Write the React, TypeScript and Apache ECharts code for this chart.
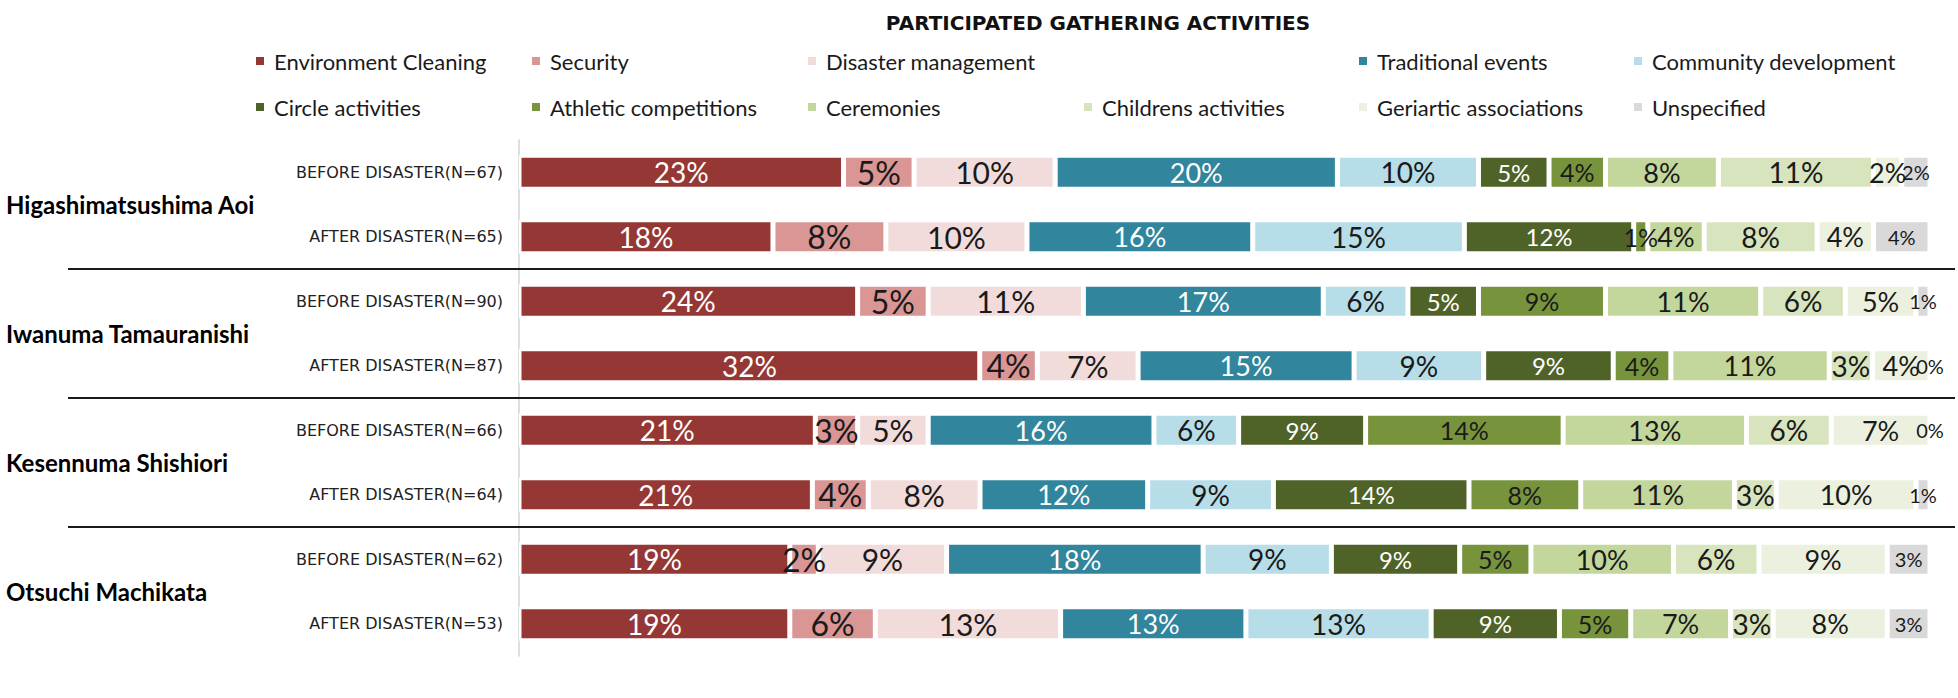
import React, { useEffect, useRef } from 'react';
import * as echarts from 'echarts';

// ---------- data ----------
const rowLabels = [
  'BEFORE DISASTER(N=67)',
  'AFTER DISASTER(N=65)',
  'BEFORE DISASTER(N=90)',
  'AFTER DISASTER(N=87)',
  'BEFORE DISASTER(N=66)',
  'AFTER DISASTER(N=64)',
  'BEFORE DISASTER(N=62)',
  'AFTER DISASTER(N=53)',
];
const groupNames = [
  'Higashimatsushima Aoi',
  'Iwanuma Tamauranishi',
  'Kesennuma Shishiori',
  'Otsuchi Machikata',
];
const chartTitle = 'PARTICIPATED GATHERING ACTIVITIES';
const activityNames = [
  'Environment Cleaning',
  'Security',
  'Disaster management',
  'Traditional events',
  'Community development',
  'Circle activities',
  'Athletic competitions',
  'Ceremonies',
  'Childrens activities',
  'Geriartic associations',
  'Unspecified',
];
// percentages per row (top to bottom)
const environmentCleaning = [23, 18, 24, 32, 21, 21, 19, 19];
const security = [5, 8, 5, 4, 3, 4, 2, 6];
const disasterManagement = [10, 10, 11, 7, 5, 8, 9, 13];
const traditionalEvents = [20, 16, 17, 15, 16, 12, 18, 13];
const communityDevelopment = [10, 15, 6, 9, 6, 9, 9, 13];
const circleActivities = [5, 12, 5, 9, 9, 14, 9, 9];
const athleticCompetitions = [4, 1, 9, 4, 14, 8, 5, 5];
const ceremonies = [8, 4, 11, 11, 13, 11, 10, 7];
const childrensActivities = [11, 8, 6, 3, 6, 3, 6, 3];
const geriarticAssociations = [2, 4, 5, 4, 7, 10, 9, 8];
const unspecified = [2, 4, 1, 0, 0, 1, 3, 3];

const seriesValues = [
  environmentCleaning,
  security,
  disasterManagement,
  traditionalEvents,
  communityDevelopment,
  circleActivities,
  athleticCompetitions,
  ceremonies,
  childrensActivities,
  geriarticAssociations,
  unspecified,
];

// ---------- styles ----------
const colors = [
  '#953735', '#D99694', '#F2DCDB', '#31859C', '#B7DEE8',
  '#4F6228', '#77933C', '#C3D69B', '#D7E4BD', '#EBF1DE', '#D9D9D9',
];
const labelColors = [
  '#ffffff', '#1a1a1a', '#1a1a1a', '#ffffff', '#1a1a1a',
  '#ffffff', '#1a1a1a', '#1a1a1a', '#1a1a1a', '#1a1a1a', '#1a1a1a',
];
const labelSizes = [28, 32, 30, 27, 28, 24, 25, 27, 28, 27, 20];
// legend slots: [column, row]
const legendSlots = [
  [0, 0], [1, 0], [2, 0], [4, 0], [5, 0],
  [0, 1], [1, 1], [2, 1], [3, 1], [4, 1], [5, 1],
];
const legendColX = [254, 530, 806, 1082, 1357, 1632];
const legendRowTop = [49, 95];

export default function App() {
  const ref = useRef<HTMLDivElement>(null);

  useEffect(() => {
    if (!ref.current) return;
    const chart = echarts.init(ref.current, null, { renderer: 'svg' });

    const rowTotals = rowLabels.map((_, i) =>
      seriesValues.reduce((s, arr) => s + arr[i], 0)
    );

    const series = activityNames.map((name, k) => ({
      name,
      type: 'bar',
      stack: 'share',
      barWidth: 34,
      data: seriesValues[k].map((v, i) => (v / rowTotals[i]) * 100),
      itemStyle: { color: colors[k], borderColor: '#ffffff', borderWidth: 2.5 },
      label: {
        show: true,
        position: 'inside',
        color: labelColors[k],
        fontSize: labelSizes[k],
        fontFamily: 'Lato',
        textBorderWidth: 0,
        formatter: (p: any) => seriesValues[k][p.dataIndex] + '%',
      },
      emphasis: { disabled: true },
      silent: true,
    }));

    const legends = activityNames.map((name, k) => ({
      data: [name],
      left: legendColX[legendSlots[k][0]],
      top: legendRowTop[legendSlots[k][1]],
      padding: 0,
      icon: 'rect',
      itemWidth: 10,
      itemHeight: 10,
      selectedMode: false,
      textStyle: {
        fontFamily: 'Lato',
        fontSize: 22,
        color: '#1a1a1a',
        lineHeight: 24,
        padding: [0, 0, 0, 4],
      },
    }));

    chart.setOption({
      animation: false,
      backgroundColor: '#ffffff',
      grid: { left: 519, right: 28, top: 140, bottom: 42, containLabel: false },
      xAxis: { type: 'value', min: 0, max: 100, show: false },
      yAxis: [
        {
          type: 'category',
          data: rowLabels,
          inverse: true,
          position: 'left',
          axisLine: { show: true, lineStyle: { color: '#d4d4d4', width: 1.5 } },
          axisTick: { show: false },
          splitLine: { show: false },
          axisLabel: {
            fontFamily: 'DejaVu Sans',
            fontSize: 16,
            color: '#222222',
            margin: 16,
          },
        },
        {
          type: 'category',
          data: groupNames,
          inverse: true,
          position: 'left',
          axisLine: { show: false },
          axisTick: { show: false },
          splitLine: { show: false },
          axisLabel: {
            align: 'left',
            margin: 513,
            fontFamily: 'Lato',
            fontWeight: 'bold',
            fontSize: 24,
            color: '#000000',
          },
        },
      ],
      legend: legends,
      series,
    });

    const yOf = (i: number) => chart.convertToPixel({ yAxisIndex: 0 }, i) as number;
    const seps = [1, 3, 5].map((i) => (yOf(i) + yOf(i + 1)) / 2);
    chart.setOption({
      graphic: [
        {
          type: 'text',
          x: 1098,
          y: 23,
          style: {
            text: chartTitle,
            fontFamily: 'DejaVu Sans',
            fontWeight: 'bold',
            fontSize: 20,
            fill: '#111111',
            textAlign: 'center',
            textVerticalAlign: 'middle',
          },
        },
        ...seps.map((y) => ({
          type: 'line',
          shape: { x1: 68, y1: y, x2: 1955, y2: y },
          style: { stroke: '#1a1a1a', lineWidth: 2 },
          z: 10,
        })),
      ],
    });

    return () => chart.dispose();
  }, []);

  return (
    <div
      ref={ref}
      style={{ position: 'absolute', left: 0, top: 0, width: 1958, height: 698 }}
    />
  );
}
